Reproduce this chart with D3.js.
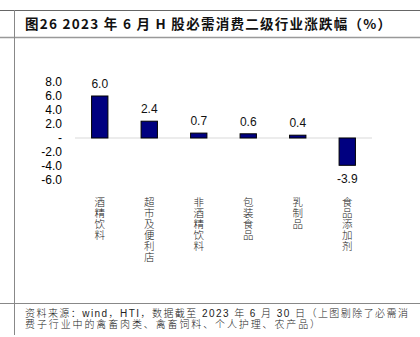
<!DOCTYPE html>
<html><head><meta charset="utf-8">
<script src="https://cdn.jsdelivr.net/npm/d3@7"></script>
<style>body{margin:0;background:#fff}svg{display:block}</style>
</head><body>
<script>
const categories = ["酒精饮料","超市及便利店","非酒精饮料","包装食品","乳制品","食品添加剂"];
const values = [6.0, 2.4, 0.7, 0.6, 0.4, -3.9];
const yTicks = [8, 6, 4, 2, 0, -2, -4, -6];
const titleText = "图26 2023 年 6 月 H 股必需消费二级行业涨跌幅（%）";
const sourceLines = ["资料来源：wind，HTI，数据截至 2023 年 6 月 30 日（上图剔除了必需消","费子行业中的禽畜肉类、禽畜饲料、个人护理、农产品）"];

const W = 420, H = 337;
const svg = d3.select("body").append("svg").attr("width", W).attr("height", H);
const fmt = v => v.toFixed(1);

// frame lines
svg.append("line").attr("x1",0).attr("x2",W).attr("y1",10.5).attr("y2",10.5).attr("stroke","#666").attr("stroke-width",1);
svg.append("line").attr("x1",0).attr("x2",W).attr("y1",37.5).attr("y2",37.5).attr("stroke","#999").attr("stroke-width",1.5);
svg.append("line").attr("x1",0).attr("x2",W).attr("y1",303.5).attr("y2",303.5).attr("stroke","#888").attr("stroke-width",1.2);
svg.append("line").attr("x1",14.5).attr("x2",14.5).attr("y1",10).attr("y2",335).attr("stroke","#888").attr("stroke-width",1);

svg.append("text").attr("x",25).attr("y",28.5).text(titleText)
  .attr("textLength",366).attr("lengthAdjust","spacing")
  .attr("font-family","'Noto Sans CJK SC', sans-serif").attr("font-weight","bold").attr("font-size",13.5).attr("fill","#111");

const x = d3.scaleBand().domain(categories).range([75, 372]).paddingInner(0.67).paddingOuter(0.335);
const y = d3.scaleLinear().domain([-6, 8]).range([180, 82]);

// zero line
svg.append("line").attr("x1",75).attr("x2",372).attr("y1",y(0)).attr("y2",y(0)).attr("stroke","#d9d9d9").attr("stroke-width",1);

// y axis
const yAxis = d3.axisLeft(y).tickValues(yTicks).tickSize(0).tickPadding(0)
  .tickFormat(d => d === 0 ? "-" : fmt(d));
const ag = svg.append("g").attr("transform","translate(62,0)").call(yAxis);
ag.select(".domain").remove();
ag.selectAll("text").attr("font-family","'Liberation Sans', Arial, sans-serif").attr("font-size",12).attr("fill","#000");

// bars
const data = categories.map((c,i)=>({c, v: values[i]}));
svg.selectAll("rect.bar").data(data).join("rect").attr("class","bar")
  .attr("x", d => x(d.c)).attr("width", x.bandwidth())
  .attr("y", d => y(Math.max(0,d.v))).attr("height", d => Math.abs(y(d.v)-y(0)))
  .attr("fill","#000080").attr("stroke","#000").attr("stroke-width",1);

// value labels
svg.selectAll("text.val").data(data).join("text").attr("class","val")
  .attr("x", d => x(d.c) + x.bandwidth()/2)
  .attr("y", d => d.v >= 0 ? y(d.v) - 8 : y(d.v) + 18)
  .attr("text-anchor","middle").attr("font-family","'Liberation Sans', Arial, sans-serif").attr("font-size",12).attr("fill","#111")
  .text(d => fmt(d.v));

// category labels (vertical)
svg.selectAll("text.cat").data(data).join("text").attr("class","cat")
  .attr("x", d => x(d.c) + x.bandwidth()/2).attr("y", 196.5)
  .style("writing-mode","vertical-rl").style("text-orientation","upright")
  .style("letter-spacing","0.5px")
  .attr("font-family","'Noto Sans CJK SC', sans-serif").attr("font-size",10.5).attr("font-weight",300).attr("fill","#222")
  .text(d => d.c);

// source
const srcLen = [383, 295];
sourceLines.forEach((t,i) => {
  svg.append("text").attr("x",25).attr("y",316.5 + i*11.5).text(t)
    .attr("textLength", srcLen[i]).attr("lengthAdjust","spacing")
    .attr("font-family","'Liberation Sans', 'Noto Sans CJK SC', sans-serif").attr("font-size",10).attr("font-weight",300).attr("fill","#222");
});
</script>
</body></html>
